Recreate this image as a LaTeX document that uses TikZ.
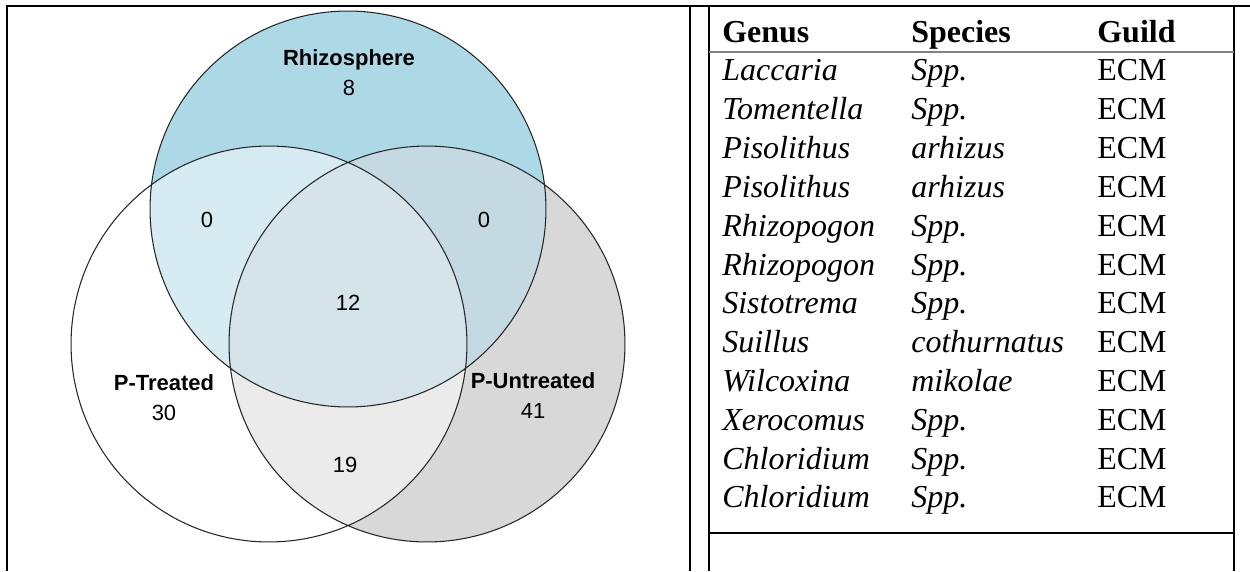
\documentclass[tikz,border=0pt]{standalone}
\usepackage{fontspec}
\setmainfont{Liberation Serif}
\newfontfamily\vennfont{Liberation Sans}
\definecolor{rhizoblue}{HTML}{ADD8E6}
\definecolor{untreatgrey}{HTML}{D8D8D8}
\definecolor{rugrey}{HTML}{C4D9E1}
\definecolor{tugrey}{HTML}{EBEBEB}
\definecolor{rtblue}{HTML}{D6EBF2}
\definecolor{allblue}{HTML}{D5E3EA}
\definecolor{headgrey}{HTML}{808080}
\def\vr{3.96cm}

\begin{document}
\begin{tikzpicture}[x=0.02cm, y=-0.02cm,
    vlabel/.style={font=\vennfont\fontsize{12.5}{14}\selectfont\bfseries, anchor=base, inner sep=0pt},
    vnum/.style={font=\vennfont\fontsize{12.5}{14}\selectfont, anchor=base, inner sep=0pt},
    cellhead/.style={font=\fontsize{18.2}{20}\selectfont\bfseries, anchor=base west, inner sep=0pt},
    cell/.style={font=\fontsize{18.2}{20}\selectfont, anchor=base west, inner sep=0pt},
    rim/.style={line width=0.6pt, black!85},
    frame/.style={line width=1.1pt}]
    \useasboundingbox (0,0) rectangle (1250,571);

    % Venn circles
    \coordinate (rhizo) at (348,209);
    \coordinate (treat) at (269,344);
    \coordinate (untreat) at (427,344);
    \fill[rhizoblue] (rhizo) circle[radius=\vr];
    \fill[untreatgrey] (untreat) circle[radius=\vr];
    \begin{scope}
        \clip (rhizo) circle[radius=\vr];
        \fill[rugrey] (untreat) circle[radius=\vr];
    \end{scope}
    \begin{scope}
        \clip (treat) circle[radius=\vr];
        \fill[tugrey] (untreat) circle[radius=\vr];
        \fill[rtblue] (rhizo) circle[radius=\vr];
        \clip (untreat) circle[radius=\vr];
        \fill[allblue] (rhizo) circle[radius=\vr];
    \end{scope}
    \draw[rim] (rhizo) circle[radius=\vr] (treat) circle[radius=\vr] (untreat) circle[radius=\vr];

    % Venn labels
    \node[vlabel] (rzname) at (349,66) {Rhizosphere};
    \node[vnum] (rzonly) at (349,95) {8};
    \node[vnum] (rtzero) at (207,227) {0};
    \node[vnum] (ruzero) at (484,227) {0};
    \node[vnum] (allthree) at (348,310) {12};
    \node[vlabel] (ptname) at (164,390) {P-Treated};
    \node[vnum] (ptonly) at (164,420) {30};
    \node[vlabel] (puname) at (533,388) {P-Untreated};
    \node[vnum] (puonly) at (533,418) {41};
    \node[vnum] (tuboth) at (345,472) {19};

    % Table frame
    \draw[line width=0.6pt] (7,6) -- (674,6);
    \draw[frame] (7,6) -- (22,6);
    \draw[line width=1.3pt] (674,6) -- (1250,6);
    \draw[frame] (7,5) -- (7,571);
    \draw[frame] (690,6) -- (690,571);
    \draw[frame] (709,7) -- (709,571);
    \draw[frame] (1234,6) -- (1234,571);
    \draw[line width=1.4pt, headgrey] (709,52) -- (1234,52);
    \draw[frame] (709,533) -- (1234,533);

    % Table text
    \node[cellhead] (hgenus) at (722,43) {Genus};
    \node[cellhead] (hspecies) at (911,43) {Species};
    \node[cellhead] (hguild) at (1097,43) {Guild};
    \foreach \g/\s [count=\i] in {Laccaria/Spp., Tomentella/Spp., Pisolithus/arhizus,
        Pisolithus/arhizus, Rhizopogon/Spp., Rhizopogon/Spp., Sistotrema/Spp.,
        Suillus/cothurnatus, Wilcoxina/mikolae, Xerocomus/Spp., Chloridium/Spp.,
        Chloridium/Spp.} {
        \node[cell] (genus\i) at (722,{42.2+38.8*\i}) {\itshape \g};
        \node[cell] (species\i) at (911,{42.2+38.8*\i}) {\itshape \s};
        \node[cell] (guild\i) at (1097,{42.2+38.8*\i}) {ECM};
    }
\end{tikzpicture}
\end{document}
